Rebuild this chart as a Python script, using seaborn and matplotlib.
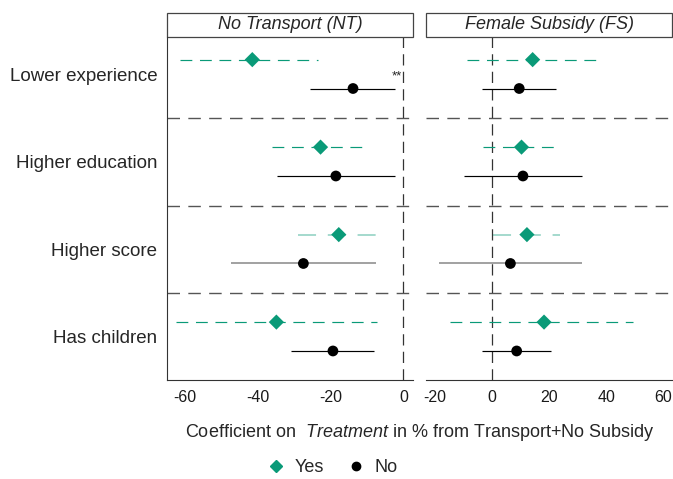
import numpy as np
import pandas as pd
import matplotlib
matplotlib.use("Agg")
import matplotlib.pyplot as plt
from matplotlib.patches import Rectangle
from matplotlib.lines import Line2D
import seaborn as sns

sns.set_style("white")
plt.rcParams['font.family'] = ['Liberation Sans', 'DejaVu Sans']
plt.rcParams['mathtext.fontset'] = 'custom'
plt.rcParams['mathtext.it'] = 'Liberation Sans:italic'
plt.rcParams['mathtext.rm'] = 'Liberation Sans'

# ---- data ----
categories = ["Lower experience", "Higher education", "Higher score", "Has children"]
panels = ["No Transport (NT)", "Female Subsidy (FS)"]
groups = ["Yes", "No"]

# No Transport panel
nt_yes_est = [-41.4, -22.7, -17.7, -34.8]
nt_yes_lo = [-61.1, -35.9, -28.9, -62.2]
nt_yes_hi = [-23.3, -9.5, -6.6, -7.2]
nt_no_est = [-13.8, -18.5, -27.4, -19.3]
nt_no_lo = [-25.5, -34.7, -47.3, -30.7]
nt_no_hi = [-2.2, -2.3, -7.5, -8.0]

# Female Subsidy panel
fs_yes_est = [14.2, 10.3, 12.2, 18.2]
fs_yes_lo = [-8.7, -3.1, 0.3, -14.8]
fs_yes_hi = [37.4, 22.7, 23.9, 49.5]
fs_no_est = [9.5, 10.8, 6.4, 8.6]
fs_no_lo = [-3.5, -9.9, -18.6, -3.4]
fs_no_hi = [22.4, 31.5, 31.5, 20.8]

faded_category = "Higher score"
stars = {("No Transport (NT)", "Lower experience", "No"): "**"}

rows = []
for p, ye, yl, yh, ne, nl, nh in [
    (panels[0], nt_yes_est, nt_yes_lo, nt_yes_hi, nt_no_est, nt_no_lo, nt_no_hi),
    (panels[1], fs_yes_est, fs_yes_lo, fs_yes_hi, fs_no_est, fs_no_lo, fs_no_hi),
]:
    for i, c in enumerate(categories):
        rows.append(dict(panel=p, category=c, group="Yes", est=ye[i], lo=yl[i], hi=yh[i]))
        rows.append(dict(panel=p, category=c, group="No", est=ne[i], lo=nl[i], hi=nh[i]))
df = pd.DataFrame(rows)
offset = {"Yes": -0.17, "No": 0.16}
df["ypos"] = df["category"].map({c: i for i, c in enumerate(categories)}) + df["group"].map(offset)

green = "#0a9a78"
colors = {"Yes": green, "No": "black"}
line_styles = {"Yes": (0, (10, 6.5)), "No": "solid"}

fig = plt.figure(figsize=(6.73, 4.79), dpi=100)
ax1 = fig.add_axes([0.248, 0.207, 0.366, 0.716])
ax2 = fig.add_axes([0.633, 0.207, 0.366, 0.716])
xlims = [(-64.8, 2.7), (-23.2, 63.2)]
xticks = [[-60, -40, -20, 0], [-20, 0, 20, 40, 60]]

for ax, p, xl, xt in zip([ax1, ax2], panels, xlims, xticks):
    sub = df[df.panel == p]
    # separators
    for k in range(len(categories) - 1):
        ax.axhline(k + 0.5, color="#555555", lw=1.0, ls=(0, (9, 6)), zorder=1)
    ax.axvline(0, color="#333333", lw=0.9, ls=(0, (9, 5)), zorder=1)
    for _, r in sub.iterrows():
        a = 0.4 if r.category == faded_category else 1.0
        lw = 1.3 if r.category == faded_category else 0.85
        ax.hlines(r.ypos, r.lo, r.hi, color=colors[r.group], lw=lw,
                  linestyles=line_styles[r.group], alpha=a, zorder=2)
    sns.scatterplot(data=sub, x="est", y="ypos", hue="group", style="group",
                    markers={"Yes": "D", "No": "o"}, palette=colors,
                    s=60, edgecolor="none", legend=False, ax=ax, zorder=3)
    for (sp, sc, sg), txt in stars.items():
        if sp == p:
            r = sub[(sub.category == sc) & (sub.group == sg)].iloc[0]
            ax.text(xl[1] - 2.7 - 0.3, r.ypos - 0.14, txt, ha="right", va="center", fontsize=9.5)
    ax.set_xlim(*xl)
    ax.set_ylim(3.49, -0.43)
    ax.set_xticks(xt)
    ax.set_xticklabels([str(t) for t in xt], fontsize=11.5, color="#1a1a1a")
    ax.set_xlabel("")
    ax.set_ylabel("")
    ax.tick_params(length=0, pad=7)
    for s in ["top", "right"]:
        ax.spines[s].set_visible(False)
    ax.spines["bottom"].set_color("#333333")
    ax.spines["left"].set_color("#333333")
    # strip
    ax.add_patch(Rectangle((0, 1.0), 1, 0.07, transform=ax.transAxes, clip_on=False,
                           facecolor="white", edgecolor="#444444", lw=0.9))
    ax.text(0.5, 1.035, p, transform=ax.transAxes, ha="center", va="center",
            fontsize=13, style="italic")

ax1.set_yticks(range(len(categories)))
ax1.set_yticklabels(categories, fontsize=13.5)
ax2.set_yticks([])
ax2.spines["left"].set_visible(False)

fig.text(0.624, 0.098, r"Coefficient on  $\mathit{Treatment}$ in % from Transport+No Subsidy",
         ha="center", va="center", fontsize=13)

handles = [Line2D([], [], marker="D", color=green, ls="none", markersize=6, label="Yes"),
           Line2D([], [], marker="o", color="black", ls="none", markersize=6, label="No")]
fig.legend(handles=handles, loc="center", bbox_to_anchor=(0.490, 0.024), ncol=2,
           frameon=False, fontsize=13, handletextpad=0.2, columnspacing=1.0,
           handlelength=1.6)

fig.savefig("out.png", dpi=100)
